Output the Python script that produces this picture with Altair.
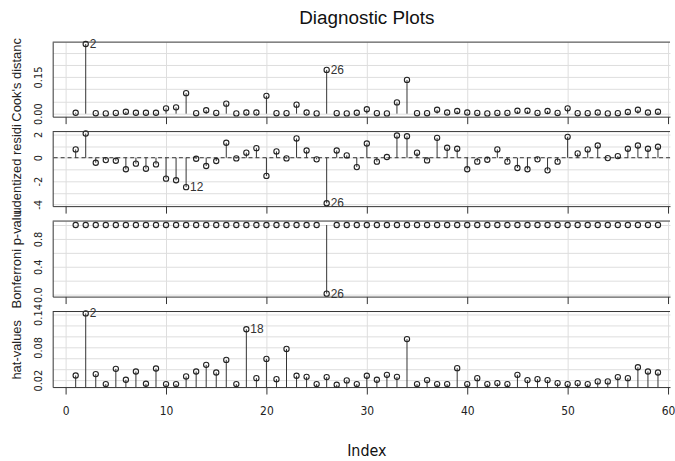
import altair as alt
import pandas as pd

# ---------------- data ----------------
index = list(range(1, 60))

cooks_d = [0.004, 0.285, 0.002, 0.001, 0.003, 0.008, 0.004, 0.004, 0.004, 0.022,
           0.026, 0.084, 0.002, 0.014, 0.003, 0.041, 0.001, 0.005, 0.005, 0.073,
           0.002, 0.002, 0.037, 0.005, 0.001, 0.179, 0.002, 0.001, 0.004, 0.018,
           0.002, 0.001, 0.046, 0.138, 0.002, 0.002, 0.016, 0.005, 0.011, 0.005,
           0.003, 0.001, 0.003, 0.003, 0.012, 0.012, 0.003, 0.011, 0.003, 0.022,
           0.002, 0.002, 0.005, 0.001, 0.002, 0.007, 0.016, 0.005, 0.008]

rstudent = [0.71, 2.07, -0.43, -0.20, -0.26, -0.99, -0.51, -0.94, -0.57, -1.79,
            -1.93, -2.52, -0.09, -0.71, -0.28, 1.28, -0.06, 0.43, 0.82, -1.56,
            0.54, -0.06, 1.65, 0.62, -0.14, -3.90, 0.62, 0.20, -0.80, 1.22,
            -0.34, 0.06, 1.90, 1.84, 0.43, -0.23, 1.70, 0.85, 0.77, -0.99,
            -0.34, -0.17, 0.71, -0.34, -0.88, -0.99, -0.14, -1.08, -0.34, 1.79,
            0.37, 0.71, 1.05, -0.03, 0.14, 0.77, 1.05, 0.77, 0.94]

bonf_p = [1, 1, 1, 1, 1, 1, 1, 1, 1, 1,
          1, 1, 1, 1, 1, 1, 1, 1, 1, 1,
          1, 1, 1, 1, 1, 0.014, 1, 1, 1, 1,
          1, 1, 1, 1, 1, 1, 1, 1, 1, 1,
          1, 1, 1, 1, 1, 1, 1, 1, 1, 1,
          1, 1, 1, 1, 1, 1, 1, 1, 1]

hat_values = [0.0285, 0.142, 0.031, 0.0127, 0.0406, 0.0206, 0.0358, 0.0133, 0.0412, 0.0127,
              0.0127, 0.0267, 0.0358, 0.0479, 0.034, 0.057, 0.0127, 0.113, 0.0236, 0.0588,
              0.0218, 0.077, 0.028, 0.026, 0.0127, 0.0255, 0.0115, 0.0194, 0.0127, 0.028,
              0.0206, 0.0297, 0.026, 0.095, 0.0127, 0.02, 0.0127, 0.0127, 0.0418, 0.0127,
              0.0236, 0.0127, 0.0145, 0.0127, 0.0297, 0.02, 0.0218, 0.02, 0.0145, 0.0127,
              0.0145, 0.0127, 0.0176, 0.0176, 0.0255, 0.0236, 0.0436, 0.0358, 0.034]

cook_ids = [2, 26]
rstud_ids = [12, 26]
bonf_ids = [26]
hat_ids = [2, 18]

x_ticks = [0, 10, 20, 30, 40, 50, 60]
cook_ticks = [0, 0.05, 0.10, 0.15, 0.20, 0.25]
rstud_ticks = [-4, -3, -2, -1, 0, 1, 2]
bonf_ticks = [0, 0.2, 0.4, 0.6, 0.8, 1.0]
hat_ticks = [0.02, 0.04, 0.06, 0.08, 0.10, 0.12, 0.14]

titles = ["Cook's distanc", "udentized residi", "Bonferroni p-valu", "hat-values"]

# ---------------- styling ----------------
W = 621
HEIGHTS = [75, 75, 76, 76]
FRAME = "#333333"
GRID = "#dedede"
INK = "#222222"
NARROW = "Liberation Sans Narrow, Arial Narrow, DejaVu Sans Condensed, sans-serif"
REG = "Liberation Sans, Arial, sans-serif"

XSCALE = alt.Scale(domain=[-1.29, 60.2], nice=False, zero=False)


def xenc(show_labels):
    ax = alt.Axis(values=x_ticks, grid=True, gridColor=GRID, gridWidth=1,
                  domain=True, domainColor=FRAME, ticks=True, tickSize=7,
                  tickColor=FRAME, labels=show_labels, title=None,
                  labelFont=NARROW, labelFontSize=12, labelColor=INK,
                  labelPadding=12, labelAngle=0, labelFlush=False,
                  labelOverlap=False)
    return alt.X("Index:Q", scale=XSCALE, axis=ax)


def yenc(domain, ticks, expr, title, h):
    ax = alt.Axis(values=ticks, labelExpr=expr, grid=True, gridColor=GRID,
                  gridWidth=1, domain=True, domainColor=FRAME, ticks=False,
                  tickSize=0, labelAngle=270, labelAlign="center",
                  labelBaseline="bottom", labelPadding=9, labelFont=NARROW,
                  labelFontSize=11, labelColor=INK, labelOverlap=False,
                  title=title, titleFont=REG, titleFontSize=13,
                  titleFontWeight="normal", titleColor=INK, titleAngle=270,
                  titleX=-36, titleY=h / 2, titleAlign="center",
                  titleBaseline="middle")
    return alt.Y("v:Q", scale=alt.Scale(domain=domain, nice=False, zero=False),
                 axis=ax)


one = pd.DataFrame({"z": [0]})


def panel(values, ids, domain, ticks, expr, title, h, base, show_x,
          extras=(), zero_dash=False):
    df = pd.DataFrame({"Index": index, "v": values})
    lab = df[df["Index"].isin(ids)]
    X = xenc(show_x)
    Y = yenc(domain, ticks, expr, title, h)
    stems = alt.Chart(df).mark_rule(color=FRAME, strokeWidth=1, clip=True).encode(
        x=X, y=Y, y2=alt.datum(base))
    pts = alt.Chart(df).mark_point(shape="circle", filled=False, size=28,
                                   color=INK, strokeWidth=1.1, opacity=1).encode(x=X, y=Y)
    txt = alt.Chart(lab).mark_text(align="left", baseline="middle", dx=4,
                                   fontSize=12, font=REG, color="#333333").encode(
        x=X, y=Y, text="Index:N")
    top = alt.Chart(one).mark_rule(color=FRAME, strokeWidth=1).encode(
        x=alt.value(0), x2=alt.value(W), y=alt.value(0))
    layers = [stems, pts, txt, top]
    if zero_dash:
        zl = alt.Chart(pd.DataFrame({"v": [0]})).mark_rule(
            color=FRAME, strokeWidth=1, strokeDash=[4, 3]).encode(y=Y)
        layers.insert(0, zl)
    layers += list(extras)
    return alt.layer(*layers).properties(width=W, height=h)


title_txt = alt.Chart(one).mark_text(text="Diagnostic Plots", fontSize=19, font=REG,
                                     color="#111111", align="center",
                                     baseline="middle").encode(
    x=alt.value(316), y=alt.value(-24))

index_txt = alt.Chart(one).mark_text(text="Index", fontSize=16, font=NARROW,
                                     color="#111111", align="center",
                                     baseline="middle").encode(
    x=alt.value(316), y=alt.value(140))

p1 = panel(cooks_d, cook_ids, [-0.0122, 0.2927], cook_ticks,
           "indexof(['0.00','0.15'], format(datum.value, '.2f')) >= 0 ? format(datum.value, '.2f') : ''",
           titles[0], HEIGHTS[0], 0, False, [title_txt])
p2 = panel(rstudent, rstud_ids, [-4.145, 2.238], rstud_ticks,
           "indexof([-4,-2,0,2], datum.value) >= 0 ? toString(datum.value) : ''",
           titles[1], HEIGHTS[1], 0, False, zero_dash=True)
p3 = panel(bonf_p, bonf_ids, [-0.0286, 1.057], bonf_ticks,
           "indexof(['0.0','0.4','0.8'], format(datum.value, '.1f')) >= 0 ? format(datum.value, '.1f') : ''",
           titles[2], HEIGHTS[2], 1, False)
p4 = panel(hat_values, hat_ids, [0.00727, 0.1455], hat_ticks,
           "indexof(['0.02','0.08','0.14'], format(datum.value, '.2f')) >= 0 ? format(datum.value, '.2f') : ''",
           titles[3], HEIGHTS[3], 0, True, [index_txt])

chart = alt.vconcat(p1, p2, p3, p4, spacing=15, bounds="flush").resolve_scale(
    y="independent").properties(
    padding={"left": 11, "top": 8, "right": 0, "bottom": 0},
    background="white").configure_view(stroke=None)

chart.save("out.html", embed_options={"renderer": "svg", "actions": False})
